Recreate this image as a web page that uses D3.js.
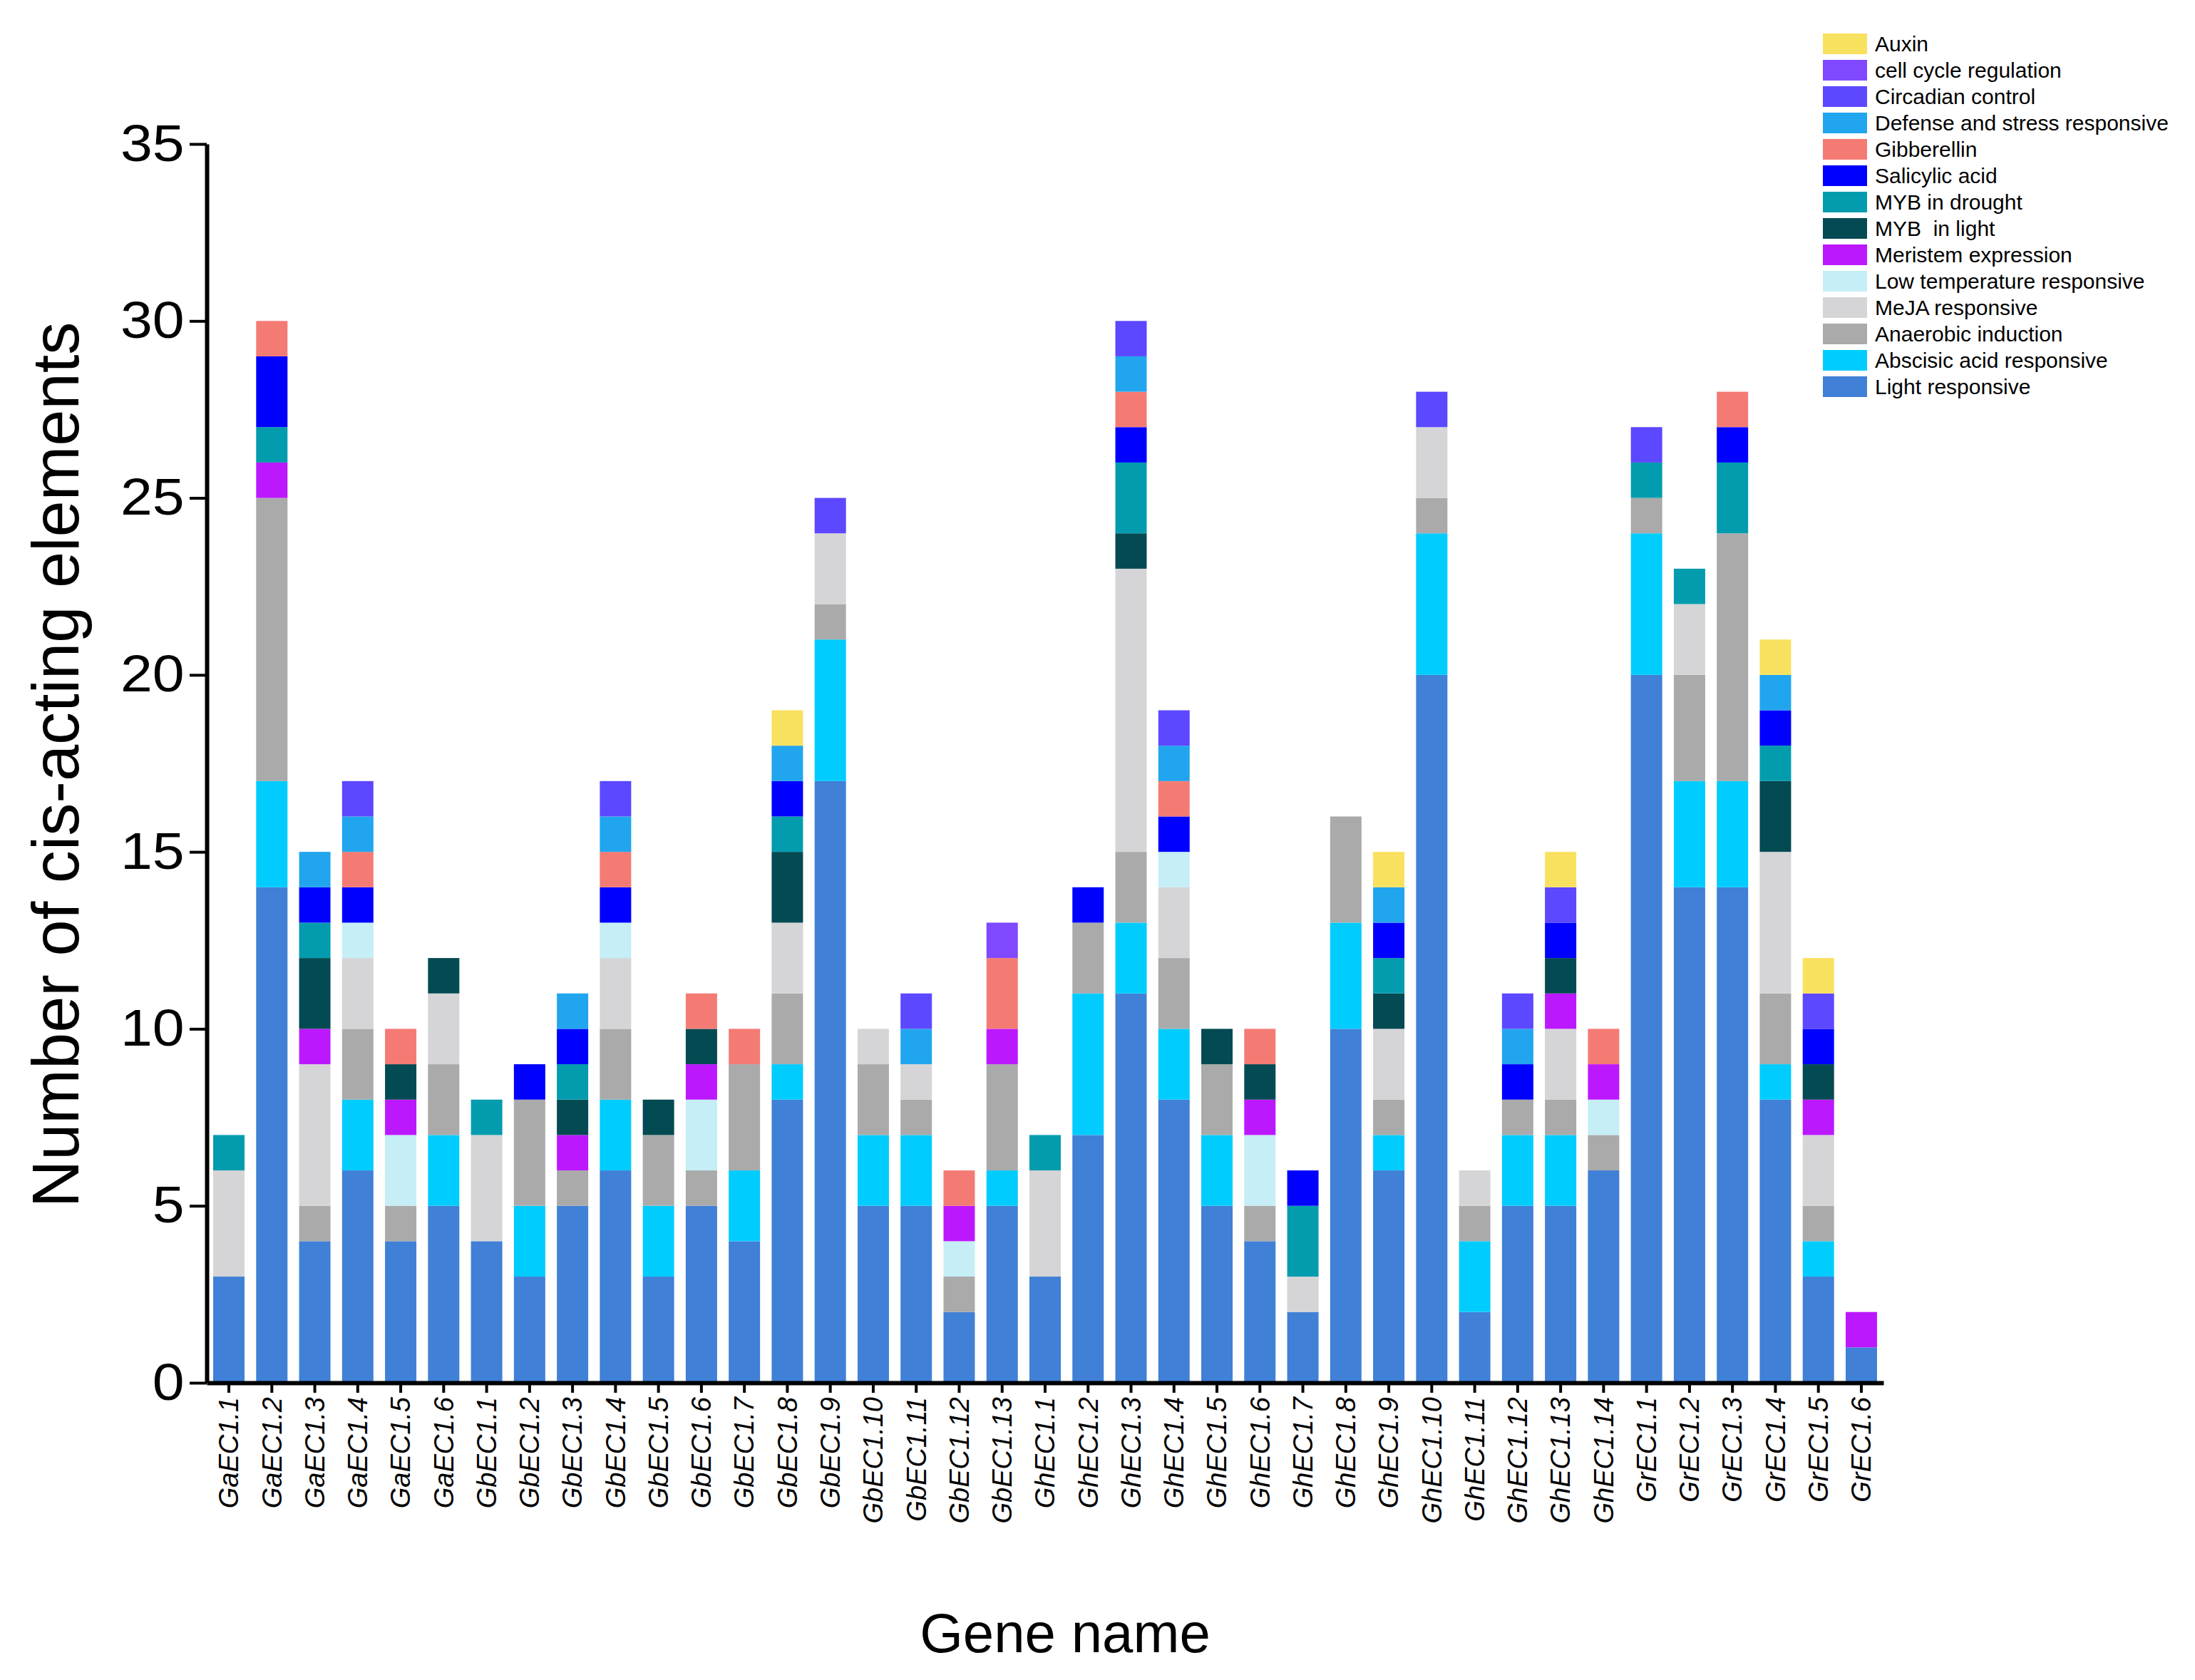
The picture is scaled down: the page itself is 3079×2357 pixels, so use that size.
<!DOCTYPE html>
<html lang="en">
<head>
    <meta charset="UTF-8">
    <title>Cis-acting elements</title>
    <script src="https://d3js.org/d3.v7.min.js"></script>
    <style>
        body { margin: 0; background: #fff; }
        svg { font-family: "Liberation Sans", Arial, sans-serif; }
        .axis path, .axis line { stroke: #000; }
        .legend text { white-space: pre; }
    </style>
</head>
<body>
    <svg width="3079" height="2357"></svg>
    <script>
        const genes = [
            "GaEC1.1", "GaEC1.2", "GaEC1.3", "GaEC1.4", "GaEC1.5", "GaEC1.6",
            "GbEC1.1", "GbEC1.2", "GbEC1.3", "GbEC1.4", "GbEC1.5", "GbEC1.6", "GbEC1.7",
            "GbEC1.8", "GbEC1.9", "GbEC1.10", "GbEC1.11", "GbEC1.12", "GbEC1.13",
            "GhEC1.1", "GhEC1.2", "GhEC1.3", "GhEC1.4", "GhEC1.5", "GhEC1.6", "GhEC1.7",
            "GhEC1.8", "GhEC1.9", "GhEC1.10", "GhEC1.11", "GhEC1.12", "GhEC1.13", "GhEC1.14",
            "GrEC1.1", "GrEC1.2", "GrEC1.3", "GrEC1.4", "GrEC1.5", "GrEC1.6"
        ];

        // stacking order, bottom to top
        const categories = [
            "Light responsive", "Abscisic acid responsive", "Anaerobic induction",
            "MeJA responsive", "Low temperature responsive", "Meristem expression",
            "MYB  in light", "MYB in drought", "Salicylic acid", "Gibberellin",
            "Defense and stress responsive", "Circadian control", "cell cycle regulation", "Auxin"
        ];
        const colors = [
            "#4080d6", "#00ccfe", "#aaaaaa", "#d5d5d7", "#c5eef6", "#bc18fe",
            "#044a52", "#039cae", "#0000fe", "#f47b74", "#21a5ee", "#5c48ff", "#8048ff", "#f9e160"
        ];

        const light      = [3,14,4,6,4,5, 4,3,5,6,3,5,4,8,17,5,5,2,5, 3,7,11,8,5,4,2,10,6,20,2,5,5,6, 20,14,14,8,3,1];
        const abscisic   = [0,3,0,2,0,2, 0,2,0,2,2,0,2,1,4,2,2,0,1, 0,4,2,2,2,0,0,3,1,4,2,2,2,0, 4,3,3,1,1,0];
        const anaerobic  = [0,8,1,2,1,2, 0,3,1,2,2,1,3,2,1,2,1,1,3, 0,2,2,2,2,1,0,3,1,1,1,1,1,1, 1,3,7,2,1,0];
        const meja       = [3,0,4,2,0,2, 3,0,0,2,0,0,0,2,2,1,1,0,0, 3,0,8,2,0,0,1,0,2,2,1,0,2,0, 0,2,0,4,2,0];
        const lowTemp    = [0,0,0,1,2,0, 0,0,0,1,0,2,0,0,0,0,0,1,0, 0,0,0,1,0,2,0,0,0,0,0,0,0,1, 0,0,0,0,0,0];
        const meristem   = [0,1,1,0,1,0, 0,0,1,0,0,1,0,0,0,0,0,1,1, 0,0,0,0,0,1,0,0,0,0,0,0,1,1, 0,0,0,0,1,1];
        const mybLight   = [0,0,2,0,1,1, 0,0,1,0,1,1,0,2,0,0,0,0,0, 0,0,1,0,1,1,0,0,1,0,0,0,1,0, 0,0,0,2,1,0];
        const mybDrought = [1,1,1,0,0,0, 1,0,1,0,0,0,0,1,0,0,0,0,0, 1,0,2,0,0,0,2,0,1,0,0,0,0,0, 1,1,2,1,0,0];
        const salicylic  = [0,2,1,1,0,0, 0,1,1,1,0,0,0,1,0,0,0,0,0, 0,1,1,1,0,0,1,0,1,0,0,1,1,0, 0,0,1,1,1,0];
        const gibberellin= [0,1,0,1,1,0, 0,0,0,1,0,1,1,0,0,0,0,1,2, 0,0,1,1,0,1,0,0,0,0,0,0,0,1, 0,0,1,0,0,0];
        const defense    = [0,0,1,1,0,0, 0,0,1,1,0,0,0,1,0,0,1,0,0, 0,0,1,1,0,0,0,0,1,0,0,1,0,0, 0,0,0,1,0,0];
        const circadian  = [0,0,0,1,0,0, 0,0,0,1,0,0,0,0,1,0,1,0,0, 0,0,1,1,0,0,0,0,0,1,0,1,1,0, 1,0,0,0,1,0];
        const cellCycle  = [0,0,0,0,0,0, 0,0,0,0,0,0,0,0,0,0,0,0,1, 0,0,0,0,0,0,0,0,0,0,0,0,0,0, 0,0,0,0,0,0];
        const auxin      = [0,0,0,0,0,0, 0,0,0,0,0,0,0,1,0,0,0,0,0, 0,0,0,0,0,0,0,0,1,0,0,0,1,0, 0,0,0,1,1,0];

        const yTicks = [0, 5, 10, 15, 20, 25, 30, 35];

        const series = [light, abscisic, anaerobic, meja, lowTemp, meristem, mybLight,
                        mybDrought, salicylic, gibberellin, defense, circadian, cellCycle, auxin];

        const rows = genes.map((g, i) => {
            const r = { gene: g };
            categories.forEach((c, k) => r[c] = series[k][i]);
            return r;
        });

        const svg = d3.select("svg");

        const x = d3.scaleBand()
            .domain(genes)
            .range([290, 2642])
            .paddingInner(0.27)
            .paddingOuter(0.15);

        const y = d3.scaleLinear()
            .domain([0, 35])
            .range([1940, 202]);

        const color = d3.scaleOrdinal().domain(categories).range(colors);

        const stacked = d3.stack().keys(categories)(rows);

        // bars
        svg.append("g")
            .selectAll("g")
            .data(stacked)
            .join("g")
            .attr("fill", d => color(d.key))
            .selectAll("rect")
            .data(d => d.filter(s => s[1] > s[0]))
            .join("rect")
            .attr("x", d => x(d.data.gene))
            .attr("width", x.bandwidth())
            .attr("y", d => y(d[1]))
            .attr("height", d => y(d[0]) - y(d[1]));

        // y axis
        const yAxis = svg.append("g")
            .attr("class", "axis")
            .attr("transform", "translate(290,0)")
            .call(d3.axisLeft(y).tickValues(yTicks).tickSize(24).tickSizeOuter(0).tickPadding(8));
        yAxis.select(".domain").attr("stroke-width", 6);
        yAxis.selectAll(".tick line").attr("stroke-width", 4);
        // the reference digits are a little wider than plain Arial
        yAxis.selectAll(".tick text")
            .attr("font-size", 72)
            .attr("fill", "#000")
            .attr("x", -28)
            .attr("transform", "scale(1.12,1)");

        // x axis
        const xAxis = svg.append("g")
            .attr("class", "axis")
            .attr("transform", "translate(0,1940)")
            .call(d3.axisBottom(x).tickSize(14).tickSizeOuter(0));
        xAxis.select(".domain").attr("stroke-width", 6);
        xAxis.selectAll(".tick line").attr("stroke-width", 4);
        xAxis.selectAll(".tick text")
            .attr("font-size", 38)
            .attr("font-style", "italic")
            .attr("fill", "#000")
            .attr("transform", "rotate(-90)")
            .attr("x", -20)
            .attr("y", 0)
            .attr("dy", "0.35em")
            .style("text-anchor", "end");

        // axis titles
        svg.append("text")
            .attr("transform", "translate(110,1073) rotate(-90)")
            .attr("text-anchor", "middle")
            .attr("font-size", 92)
            .text("Number of cis-acting elements");

        svg.append("text")
            .attr("x", 1494)
            .attr("y", 2318)
            .attr("text-anchor", "middle")
            .attr("font-size", 78)
            .text("Gene name");

        // legend, top item is the top of the stack
        const legendItems = categories.slice().reverse();
        const legend = svg.append("g")
            .attr("class", "legend")
            .selectAll("g")
            .data(legendItems)
            .join("g")
            .attr("transform", (d, i) => `translate(2557,${47 + i * 37})`);

        legend.append("rect")
            .attr("width", 62)
            .attr("height", 29)
            .attr("fill", d => color(d));

        legend.append("text")
            .attr("x", 73)
            .attr("y", 14.5)
            .attr("dy", "0.35em")
            .attr("font-size", 30)
            .text(d => d);
    </script>
</body>
</html>
